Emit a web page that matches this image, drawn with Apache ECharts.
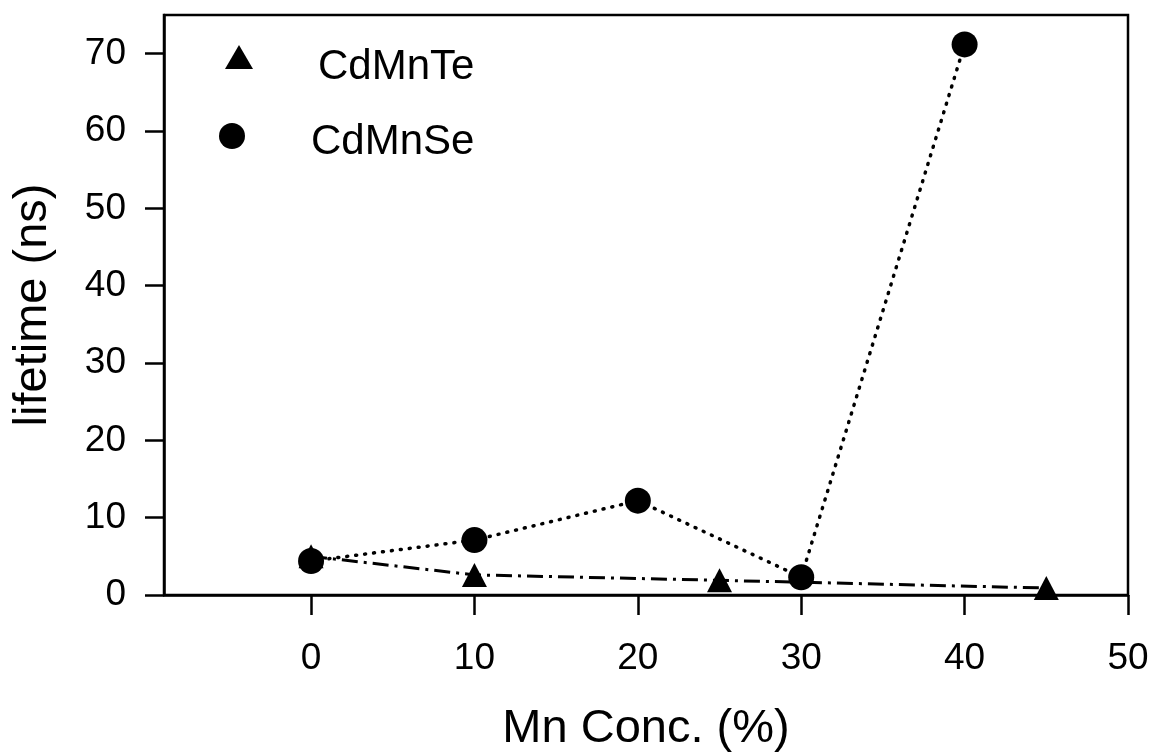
<!DOCTYPE html>
<html>
<head>
<meta charset="utf-8">
<script src="https://cdn.jsdelivr.net/npm/echarts@6/dist/echarts.min.js"></script>
<style>
html,body{margin:0;padding:0;background:#fff;}
#chart{width:1151px;height:753px;}
</style>
</head>
<body>
<div id="chart"></div>
<script>
// Data
var teX = [0, 10, 25, 45];
var teY = [5.0, 2.6, 1.9, 0.9];
var seX = [0, 10, 20, 30, 40];
var seY = [4.4, 7.1, 12.2, 2.3, 71.2];
var xTicks = [0, 10, 20, 30, 40, 50];
var yTicks = [0, 10, 20, 30, 40, 50, 60, 70];
var seriesNames = ['CdMnTe', 'CdMnSe'];

function pairs(xs, ys) { return xs.map(function (x, i) { return [x, ys[i]]; }); }

var FONT = '"Liberation Sans", Arial, Helvetica, sans-serif';
function iconLegend(name, icon, left, top, w, h) {
  return {
    data: [{name: name, icon: icon}], left: left, top: top, padding: 0,
    itemWidth: w, itemHeight: h, selectedMode: false,
    formatter: function () { return ''; },
    textStyle: {fontSize: 1, color: '#000'}
  };
}
function textLegend(name, left, top) {
  return {
    data: [{name: name, icon: 'none'}], left: left, top: top, padding: 0,
    itemWidth: 0, itemHeight: 1, selectedMode: false,
    textStyle: {fontFamily: FONT, fontSize: 42, color: '#000'}
  };
}
var chart = echarts.init(document.getElementById('chart'), null, {renderer: 'canvas'});
chart.setOption({
  animation: false,
  backgroundColor: '#fff',
  grid: {left: 164, right: 23, top: 15, bottom: 158, show: true, borderColor: '#000', borderWidth: 2.5,
         backgroundColor: 'transparent', containLabel: false, outerBoundsMode: 'none'},
  legend: [
    iconLegend(seriesNames[0], 'triangle', 225, 45, 28, 24),
    iconLegend(seriesNames[1], 'circle', 218, 123, 28, 26),
    textLegend(seriesNames[0], 313, 46),
    textLegend(seriesNames[1], 306, 121)
  ],
  xAxis: {
    type: 'value', min: -9, max: 50,
    name: 'Mn Conc. (%)', nameLocation: 'middle', nameGap: 111,
    nameTextStyle: {fontFamily: FONT, fontSize: 47, color: '#000'},
    axisLine: {show: true, onZero: false, lineStyle: {color: '#000', width: 2.5}},
    axisTick: {show: true, length: 20, inside: false, customValues: xTicks, lineStyle: {color: '#000', width: 2.5}},
    axisLabel: {show: true, customValues: xTicks, margin: 45, fontFamily: FONT, fontSize: 37, color: '#000'},
    splitLine: {show: false}
  },
  yAxis: {
    type: 'value', min: 0, max: 75, interval: 10,
    name: 'lifetime (ns)', nameLocation: 'middle', nameGap: 107, nameRotate: 90,
    nameTextStyle: {fontFamily: FONT, fontSize: 47, color: '#000'},
    axisLine: {show: true, onZero: false, lineStyle: {color: '#000', width: 2.5}},
    axisTick: {show: true, length: 19, inside: false, customValues: yTicks, lineStyle: {color: '#000', width: 2.5}},
    axisLabel: {show: true, customValues: yTicks, margin: 38, fontFamily: FONT, fontSize: 37, color: '#000'},
    splitLine: {show: false}
  },
  series: [
    {
      name: seriesNames[0], type: 'line', data: pairs(teX, teY),
      symbol: 'triangle', symbolSize: [25, 24], z: 2,
      itemStyle: {color: '#000'},
      lineStyle: {color: '#000', width: 3, type: [16, 6, 3, 6]}
    },
    {
      name: seriesNames[1], type: 'line', data: pairs(seX, seY),
      symbol: 'circle', symbolSize: 26, z: 3,
      itemStyle: {color: '#000'},
      lineStyle: {color: '#000', width: 3.5, type: [1, 8], cap: 'round'}
    }
  ]
});
</script>
</body>
</html>
